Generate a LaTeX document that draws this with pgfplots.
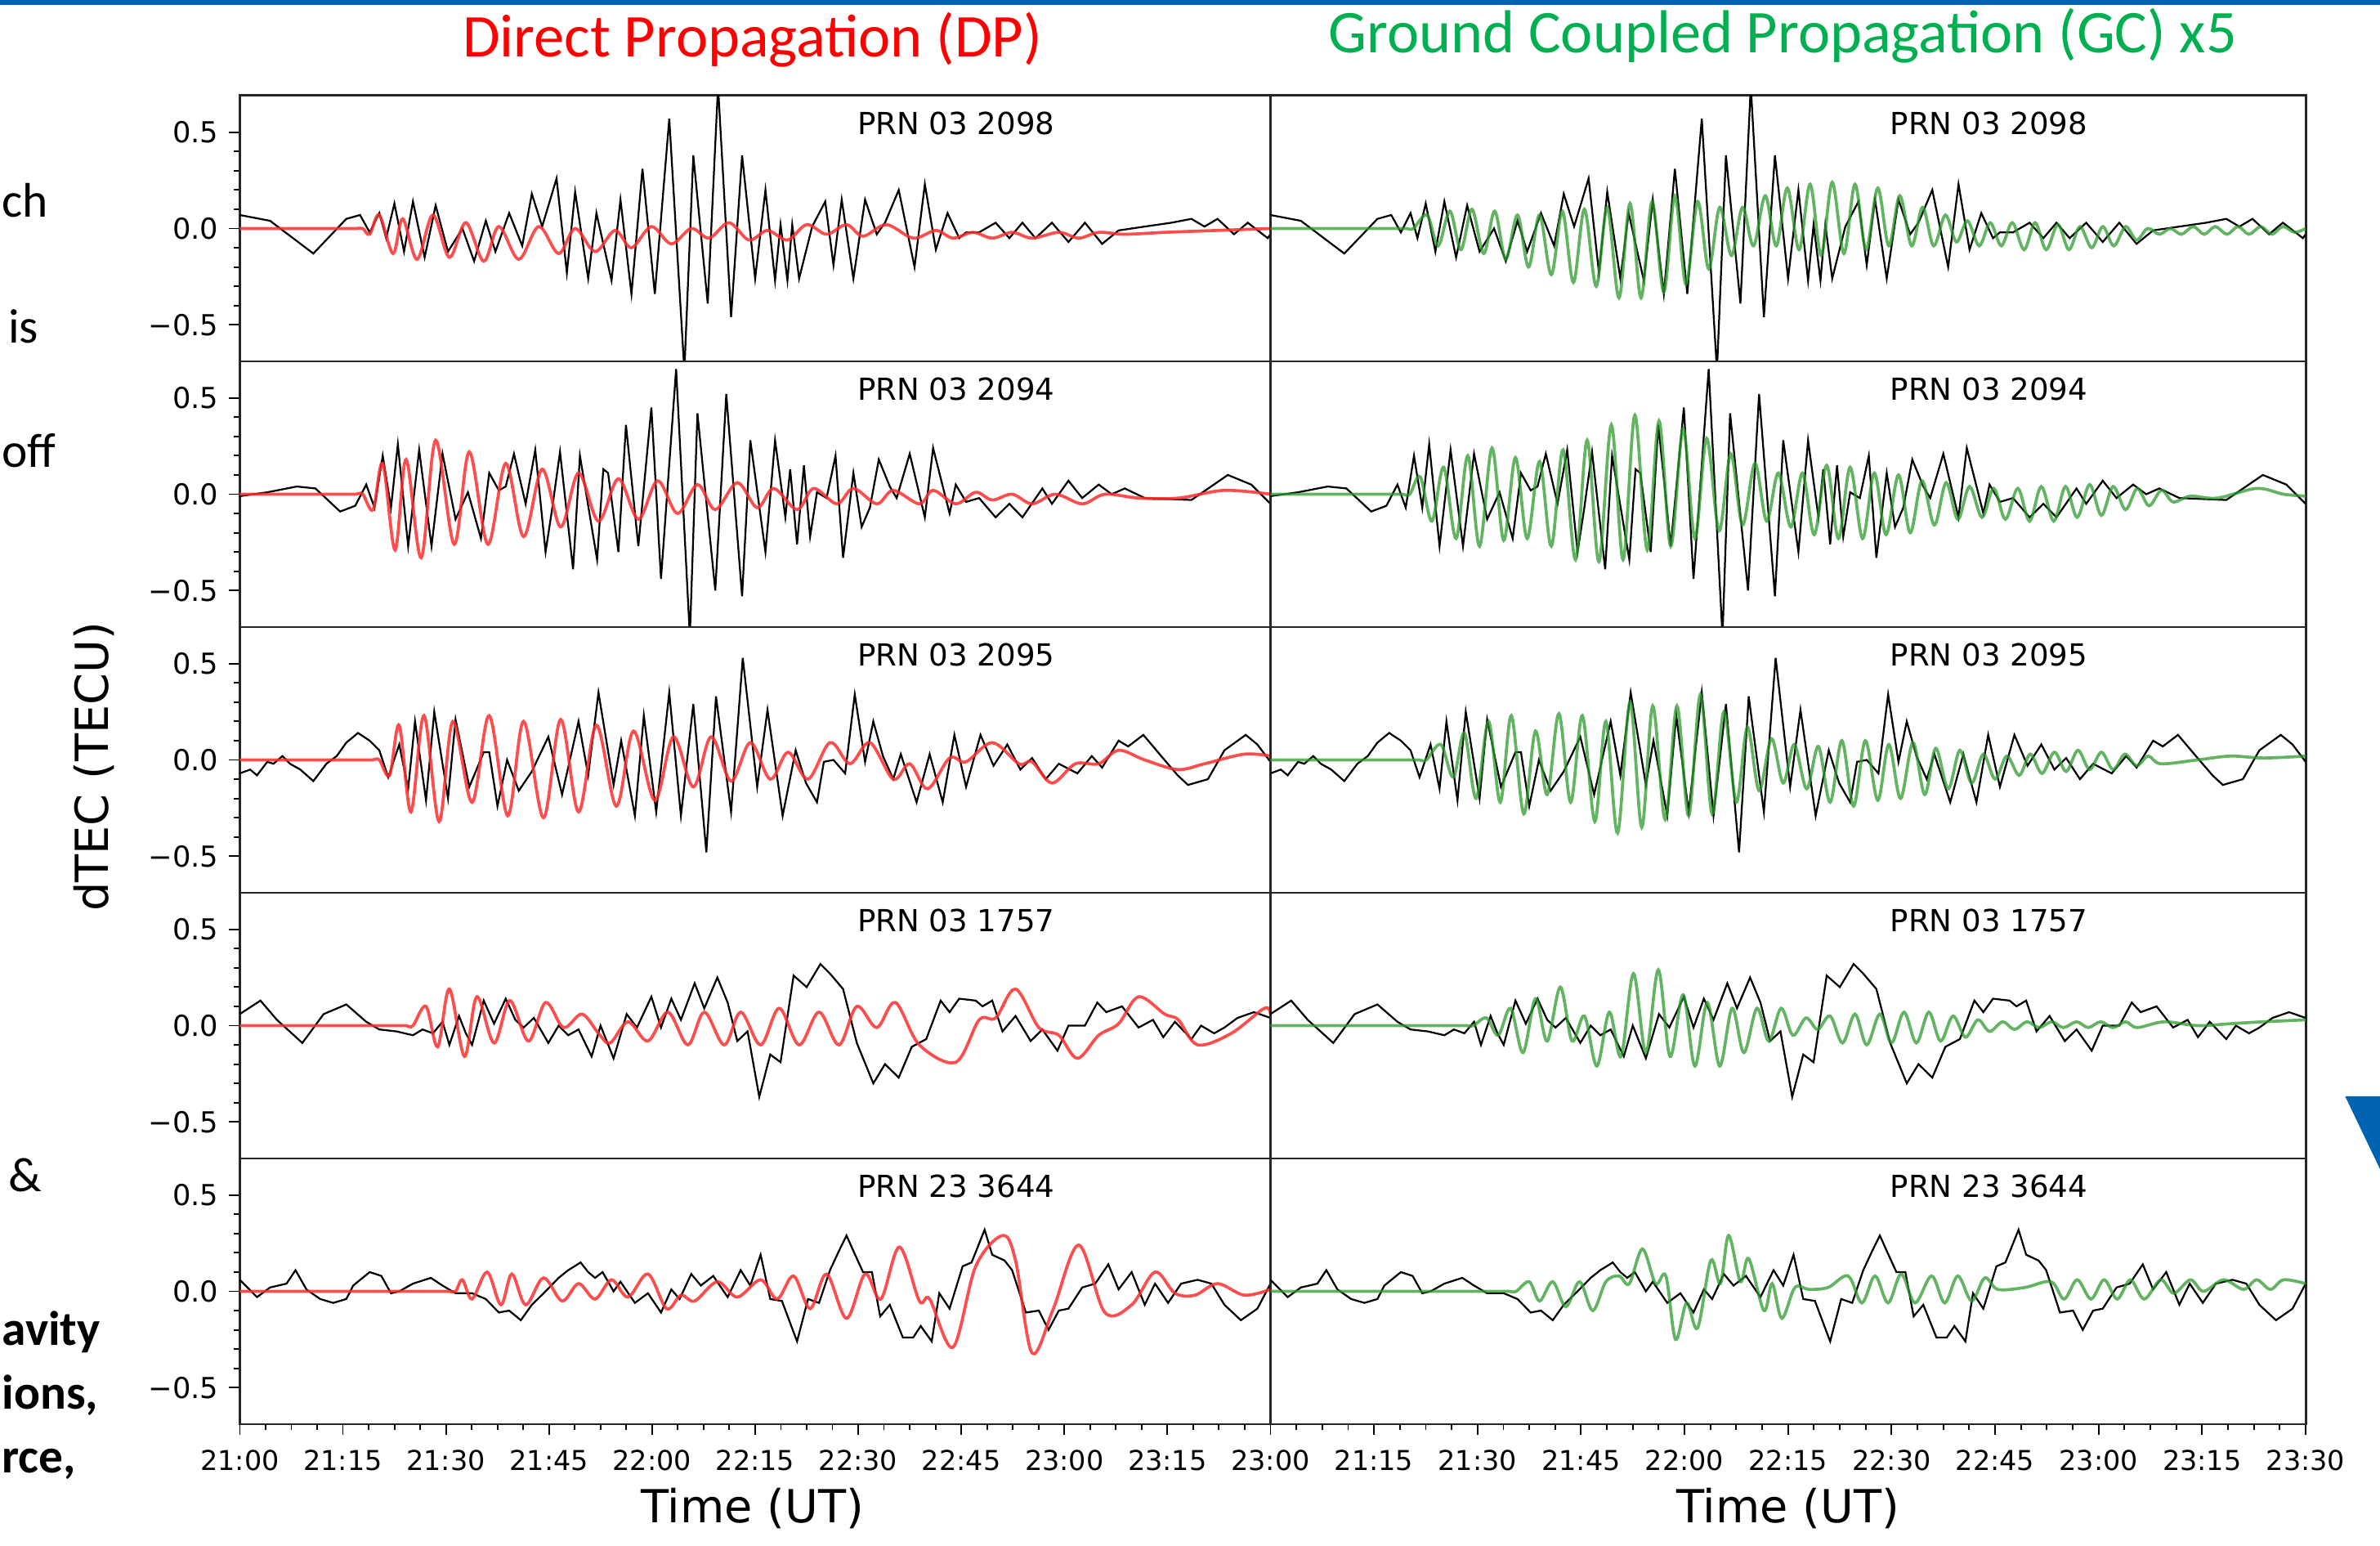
\documentclass[border=0pt]{standalone}
\usepackage{fontspec}
\setmainfont{DejaVu Sans}
\newfontfamily\calibri{Carlito}
\usepackage{pgfplots}
\usepackage{pgfplotstable}
\pgfplotsset{compat=1.18}

\definecolor{dpred}{RGB}{255,45,45}
\definecolor{gcgreen}{RGB}{45,155,45}
\definecolor{slideblue}{RGB}{0,99,177}
\definecolor{titlegreen}{RGB}{0,176,80}

% ---- black: observed dTEC, t in minutes after 21:00 ----
\pgfplotstableread{
t v
0 0.07
4.4 0.04
10.7 -0.13
15.5 0.05
17.5 0.07
18.9 -0.02
20.3 0.08
21.3 -0.05
22.5 0.13
23.9 -0.12
25.2 0.14
26.9 -0.15
28.5 0.12
30.3 -0.12
32.4 0.00
34.1 -0.17
35.8 0.04
37.2 -0.12
39.2 0.08
41.1 -0.09
42.5 0.18
44.0 0.01
46.1 0.26
47.6 -0.23
48.8 0.19
50.7 -0.26
51.9 0.08
54.1 -0.27
55.4 0.15
57.0 -0.34
58.6 0.31
60.4 -0.34
62.5 0.57
64.7 -0.74
66.0 0.38
68.1 -0.39
69.6 0.74
71.5 -0.46
73.1 0.38
75.0 -0.26
76.5 0.20
77.9 -0.27
78.7 0.02
79.7 -0.27
80.4 0.02
81.4 -0.26
83.3 0.01
85.2 0.14
86.4 -0.19
87.6 0.15
89.3 -0.26
91.0 0.15
92.7 -0.03
93.9 0.03
95.9 0.20
98.2 -0.20
99.7 0.23
101.3 -0.11
103.0 0.08
104.7 -0.05
105.7 -0.02
107.6 -0.02
110.0 0.03
112.0 -0.05
113.9 0.03
115.8 -0.05
118.2 0.03
120.6 -0.07
123.0 0.03
125.5 -0.08
127.9 -0.01
131.7 0.01
135.6 0.03
138.5 0.05
140.4 0.01
142.3 0.05
144.7 -0.03
146.7 0.03
149.6 -0.05
150 -0.03
}\blkA

\pgfplotstableread{
t v
0 -0.01
4.0 0.01
8.3 0.04
11.0 0.03
14.6 -0.09
16.8 -0.06
18.4 0.05
19.6 -0.07
20.8 0.20
22.0 -0.07
23.0 0.26
24.5 -0.27
26.1 0.23
27.9 -0.27
29.5 0.21
31.4 -0.13
33.2 0.01
35.1 -0.23
36.3 0.11
37.7 0.02
38.7 0.04
39.9 0.21
41.6 -0.05
43.0 0.23
44.5 -0.30
45.4 -0.09
46.6 0.22
48.5 -0.39
49.5 0.20
52.0 -0.34
52.9 0.13
53.6 0.11
55.1 -0.30
56.2 0.36
58.0 -0.27
59.9 0.45
61.3 -0.44
63.5 0.65
65.5 -0.74
66.6 0.42
69.2 -0.50
70.8 0.52
73.1 -0.53
74.3 0.28
76.5 -0.30
77.9 0.28
79.4 -0.12
80.1 0.13
81.1 -0.26
82.1 0.15
83.0 -0.22
84.0 0.01
85.4 -0.02
86.7 0.20
87.8 -0.33
89.3 0.11
90.5 -0.17
91.7 -0.07
93.0 0.18
94.6 0.04
95.6 -0.02
97.5 0.21
99.7 -0.12
100.9 0.24
103.3 -0.10
104.2 0.05
105.7 -0.04
107.6 -0.02
110.0 -0.12
112.0 -0.05
113.9 -0.12
116.8 0.03
118.2 -0.05
120.6 0.07
122.6 -0.02
125.0 0.05
126.9 0.00
128.8 0.03
131.7 -0.02
138.5 -0.03
143.8 0.10
147.2 0.05
150 -0.05
}\blkB

\pgfplotstableread{
t v
0 -0.07
1.5 -0.05
2.5 -0.08
4.0 -0.01
4.9 -0.02
6.2 0.02
7.3 -0.02
8.8 -0.05
10.7 -0.11
12.6 -0.02
14.1 0.02
15.5 0.09
17.2 0.14
18.9 0.10
20.3 0.05
21.6 -0.09
23.2 0.08
24.5 -0.15
25.5 0.20
27.1 -0.21
28.3 0.25
30.3 -0.20
31.4 0.21
33.4 -0.14
35.5 0.04
36.3 0.04
37.5 -0.24
38.9 0.00
40.6 -0.16
42.5 -0.06
44.9 0.12
46.9 -0.18
49.3 0.20
50.7 -0.08
52.2 0.35
54.4 -0.13
55.5 0.10
57.5 -0.29
58.8 0.23
60.6 -0.27
62.5 0.35
64.2 -0.29
66.0 0.29
67.9 -0.48
69.3 0.33
71.5 -0.27
73.2 0.53
75.3 -0.14
76.8 0.26
79.0 -0.29
80.9 0.05
82.4 -0.12
84.0 -0.22
85.0 -0.01
86.4 0.00
88.1 -0.07
89.5 0.34
91.0 -0.01
92.2 0.20
93.6 0.02
95.1 -0.10
96.2 0.03
98.5 -0.22
100.4 0.03
102.3 -0.22
104.0 0.13
105.7 -0.14
107.8 0.13
109.7 -0.03
111.7 0.08
113.6 -0.05
115.3 0.01
117.3 -0.10
119.2 -0.02
121.9 -0.07
124.0 0.02
125.5 -0.04
127.9 0.10
129.3 0.07
131.5 0.13
134.1 0.02
136.5 -0.08
138.0 -0.13
140.9 -0.10
143.3 0.05
146.4 0.13
148.1 0.08
150 -0.01
}\blkC

\pgfplotstableread{
t v
0 0.06
3.0 0.13
5.4 0.03
9.1 -0.09
12.2 0.06
15.5 0.11
18.4 0.02
20.3 -0.02
22.8 -0.03
25.2 -0.05
26.6 -0.02
28.1 -0.04
29.5 0.02
30.5 -0.10
31.9 0.05
32.9 -0.04
33.8 -0.10
35.5 0.13
37.0 0.01
38.7 0.14
40.1 0.03
41.3 -0.01
42.8 0.04
44.9 -0.09
46.4 0.00
47.8 -0.05
49.3 -0.02
51.2 -0.16
52.5 0.00
54.4 -0.17
56.3 0.06
57.8 -0.01
59.9 0.15
61.3 -0.01
62.8 0.14
64.2 0.03
66.2 0.22
67.6 0.09
69.5 0.25
71.0 0.12
72.4 -0.08
73.9 -0.03
75.6 -0.37
77.2 -0.15
78.7 -0.19
80.6 0.26
82.5 0.20
84.5 0.32
85.9 0.27
87.8 0.19
89.8 -0.09
92.2 -0.30
93.9 -0.20
95.9 -0.27
97.8 -0.11
99.9 -0.07
102.0 0.13
103.3 0.07
104.7 0.14
107.1 0.13
108.1 0.10
109.5 0.13
111.0 -0.03
112.9 0.05
115.1 -0.08
116.8 -0.02
119.0 -0.13
120.6 0.00
123.0 0.00
124.8 0.12
126.1 0.07
128.4 0.10
130.8 -0.01
132.9 0.03
134.4 -0.06
136.1 0.02
138.5 -0.07
139.9 0.00
141.8 -0.04
143.3 -0.01
145.2 0.04
147.6 0.07
150 0.04
}\blkD

\pgfplotstableread{
t v
0 0.06
2.5 -0.03
4.4 0.02
6.8 0.04
8.1 0.11
9.7 0.01
11.7 -0.04
13.6 -0.06
15.5 -0.04
16.5 0.03
18.9 0.10
20.6 0.08
22.0 -0.01
23.2 0.00
25.2 0.04
27.8 0.07
29.5 0.03
31.4 -0.01
33.8 -0.01
35.8 -0.04
37.7 -0.11
39.2 -0.10
40.9 -0.15
42.5 -0.07
44.5 0.00
46.4 0.07
47.8 0.11
49.6 0.15
50.7 0.10
51.7 0.07
52.8 0.10
54.4 0.00
55.4 0.05
57.5 -0.06
59.4 -0.01
61.3 -0.11
62.8 0.01
64.0 -0.04
65.7 0.09
67.1 0.03
68.9 0.08
71.0 -0.03
72.9 0.11
74.3 0.03
75.8 0.19
77.2 -0.04
78.9 -0.05
81.1 -0.26
82.7 -0.04
84.3 -0.06
85.9 0.11
87.2 0.21
88.3 0.29
89.3 0.21
90.7 0.10
92.0 0.10
93.2 -0.13
94.6 -0.07
96.5 -0.24
98.0 -0.24
99.1 -0.18
100.7 -0.26
101.8 -0.01
103.3 -0.09
105.2 0.13
106.5 0.15
108.4 0.32
109.5 0.19
111.3 0.16
112.4 0.11
114.4 -0.11
116.3 -0.10
117.7 -0.20
119.2 -0.10
120.6 -0.09
122.6 0.02
124.5 0.04
126.4 0.14
127.9 0.01
129.8 0.10
131.7 -0.07
133.2 0.04
135.1 -0.06
137.0 0.04
139.4 0.06
141.4 0.04
143.3 -0.07
145.7 -0.15
148.1 -0.09
150 0.04
}\blkE

% ---- red: direct propagation model ----
\pgfplotstableread{
t v
0 0
12 0
15.5 0
16.9 0
17.9 0
18.9 -0.03
20.3 0.07
22.3 -0.13
23.7 0.05
25.8 -0.16
28.1 0.07
30.5 -0.15
32.9 0.03
35.5 -0.17
37.7 0.01
40.6 -0.16
43.5 0.01
46.4 -0.13
48.8 0.00
51.7 -0.12
54.6 -0.01
57.0 -0.10
59.9 0.01
62.8 -0.08
65.7 0.00
68.3 -0.05
71.2 0.03
74.1 -0.06
76.8 -0.01
79.7 -0.06
82.5 0.02
85.4 -0.03
88.3 0.02
90.7 -0.04
94.1 0.02
98.0 -0.05
101.3 -0.01
103.8 -0.05
106.7 -0.02
109.5 -0.05
112.4 -0.02
115.3 -0.05
119.2 -0.02
122.1 -0.05
125.0 -0.02
128.8 -0.03
134.6 -0.02
142.3 -0.01
150 0.00
}\redA

\pgfplotstableread{
t v
0 0
12 0
15.5 0
16.9 0
17.9 0
19.4 -0.08
20.8 0.16
22.6 -0.29
24.2 0.18
26.4 -0.33
28.5 0.28
31.2 -0.26
33.4 0.22
36.1 -0.26
38.7 0.16
41.3 -0.22
44.0 0.13
46.7 -0.17
49.3 0.11
52.2 -0.14
55.1 0.08
58.0 -0.13
60.8 0.07
63.7 -0.10
66.6 0.05
69.2 -0.08
72.4 0.06
75.3 -0.07
77.7 0.03
81.1 -0.08
83.5 0.03
86.9 -0.05
89.3 0.03
92.7 -0.05
95.1 0.02
98.9 -0.05
100.9 0.02
104.2 -0.05
107.1 0.01
109.5 -0.03
112.4 0.00
115.3 -0.05
118.7 0.00
122.6 -0.05
125.9 0.00
130.8 -0.02
136.6 -0.02
143.3 0.02
150 0.00
}\redB

\pgfplotstableread{
t v
0 0
14.3 0
17.8 0
19.3 0
20.3 0
21.8 -0.08
23.2 0.18
24.9 -0.27
26.8 0.23
29.0 -0.32
31.0 0.20
33.8 -0.22
36.3 0.23
39.0 -0.29
41.3 0.20
44.2 -0.30
46.7 0.21
49.3 -0.27
51.9 0.18
54.8 -0.24
57.3 0.15
60.4 -0.21
63.1 0.12
66.0 -0.14
68.6 0.12
71.5 -0.11
74.3 0.09
77.2 -0.10
79.8 0.04
82.7 -0.10
85.9 0.09
88.8 -0.02
91.7 0.09
95.1 -0.10
97.5 -0.02
100.1 -0.15
103.3 0.01
105.7 -0.01
109.5 0.09
113.4 -0.02
115.3 -0.01
118.2 -0.12
121.6 -0.02
125.0 -0.02
127.9 0.05
131.7 0.00
136.5 -0.05
140.4 -0.02
146.2 0.03
150 0.02
}\redC

\pgfplotstableread{
t v
0 0
19.2 0
22.7 0
24.2 0
25.2 0
27.1 0.10
28.8 -0.11
30.5 0.19
32.7 -0.16
34.5 0.15
37.0 -0.09
39.3 0.13
42.0 -0.08
44.5 0.12
47.1 -0.01
49.8 0.06
52.2 -0.04
53.9 -0.09
56.5 0.02
59.4 -0.08
62.3 0.07
65.2 -0.10
67.6 0.07
70.5 -0.10
72.9 0.07
75.8 -0.10
78.5 0.09
81.4 -0.10
84.3 0.07
87.2 -0.10
89.8 0.10
92.7 -0.01
95.4 0.12
98.9 -0.10
104.2 -0.19
107.6 0.03
110.0 0.04
112.9 0.19
116.3 -0.01
119.2 -0.05
121.9 -0.17
125.0 -0.05
127.9 0.01
130.8 0.15
134.6 0.06
136.6 0.03
139.4 -0.10
144.3 -0.04
149.1 0.09
150 0.06
}\redD

\pgfplotstableread{
t v
0 0
25.4 0
28.9 0
30.4 0
31.4 0
32.4 0.06
33.8 -0.04
36.0 0.10
38.0 -0.07
39.6 0.09
41.6 -0.07
44.2 0.07
46.9 -0.05
49.3 0.04
51.7 -0.04
54.1 0.06
56.5 -0.03
59.4 0.09
62.1 -0.09
64.2 -0.02
66.2 -0.05
69.5 0.05
72.4 -0.03
75.8 0.06
78.2 -0.04
80.6 0.08
83.0 -0.09
85.4 0.09
88.3 -0.14
91.0 0.09
93.3 -0.04
96.0 0.23
98.9 -0.05
100.4 -0.04
103.8 -0.29
107.1 0.13
111.0 0.29
112.9 0.16
115.3 -0.32
118.4 -0.09
122.1 0.24
125.9 -0.11
129.8 -0.07
133.2 0.10
136.1 -0.01
139.0 -0.02
142.3 0.04
146.2 -0.02
150 0.01
}\redE

% ---- green: ground coupled model (x5) ----
\pgfplotstableread{
t v
0 0
14.7 0
18.2 0
19.7 0
20.7 0
22.7 0.07
24.3 -0.09
26.0 0.09
27.6 -0.11
29.2 0.10
30.9 -0.13
32.5 0.09
34.1 -0.16
35.8 0.07
37.4 -0.20
39.0 0.07
40.7 -0.24
42.3 0.09
43.9 -0.28
45.5 0.10
47.2 -0.30
48.8 0.11
50.5 -0.36
52.1 0.13
53.7 -0.36
55.3 0.14
57.0 -0.33
58.6 0.17
60.2 -0.29
61.9 0.14
63.5 -0.21
65.1 0.11
66.8 -0.14
68.4 0.11
70.0 -0.09
71.7 0.17
73.3 -0.09
74.9 0.21
76.6 -0.11
78.2 0.23
79.8 -0.14
81.4 0.24
83.1 -0.13
84.7 0.23
86.3 -0.11
88.0 0.21
89.6 -0.09
91.2 0.17
92.9 -0.09
94.5 0.11
96.1 -0.09
97.8 0.07
99.4 -0.07
101.0 0.04
102.7 -0.09
104.3 0.03
105.9 -0.09
107.5 0.03
109.2 -0.11
110.8 0.03
112.4 -0.11
114.1 0.02
115.7 -0.11
117.3 0.01
119.0 -0.10
120.6 0.01
122.2 -0.09
123.9 0.01
125.5 -0.06
127.1 0.00
128.8 -0.03
130.4 0.00
132.0 -0.03
133.7 0.01
135.3 -0.03
136.9 0.01
138.6 -0.03
140.2 0.01
141.8 -0.03
143.5 0.01
145.1 -0.03
146.7 0.01
148.4 -0.02
150 0.00
}\grnA

\pgfplotstableread{
t v
0 0
14.2 0
17.7 0
19.2 0
20.2 0
21.7 0.09
23.4 -0.14
25.1 0.14
26.9 -0.23
28.6 0.20
30.3 -0.27
32.1 0.24
33.8 -0.24
35.5 0.19
37.2 -0.23
39.0 0.17
40.7 -0.27
42.4 0.23
44.2 -0.34
45.9 0.28
47.6 -0.35
49.4 0.36
51.1 -0.34
52.8 0.41
54.6 -0.29
56.3 0.38
58.0 -0.27
59.8 0.34
61.5 -0.23
63.2 0.29
65.0 -0.19
66.7 0.21
68.4 -0.16
70.2 0.16
71.9 -0.14
73.6 0.11
75.4 -0.17
77.1 0.11
78.8 -0.21
80.6 0.15
82.3 -0.23
84.0 0.14
85.8 -0.23
87.5 0.11
89.2 -0.21
91.0 0.10
92.7 -0.20
94.4 0.07
96.2 -0.16
97.9 0.06
99.6 -0.13
101.3 0.04
103.1 -0.12
104.8 0.03
106.5 -0.13
108.3 0.03
110.0 -0.14
111.7 0.04
113.5 -0.14
115.2 0.04
116.9 -0.12
118.7 0.05
120.4 -0.11
122.1 0.04
123.9 -0.08
125.6 0.03
127.3 -0.06
129.1 0.02
130.8 -0.04
133.3 -0.01
137.2 -0.02
142.9 0.03
146.8 0.00
150 -0.01
}\grnB

\pgfplotstableread{
t v
0 0
16.6 0
20.1 0
21.6 0
22.6 0
24.7 0.08
26.5 -0.09
28.1 0.14
29.8 -0.20
31.6 0.20
33.3 -0.22
34.9 0.23
36.7 -0.28
38.4 0.15
40.1 -0.18
41.8 0.24
43.5 -0.22
45.2 0.23
47.0 -0.32
48.6 0.20
50.3 -0.38
52.1 0.30
53.8 -0.35
55.4 0.28
57.2 -0.31
58.9 0.28
60.6 -0.29
62.3 0.34
64.0 -0.28
65.7 0.25
67.5 -0.22
69.1 0.17
70.8 -0.16
72.6 0.11
74.3 -0.12
75.9 0.08
77.7 -0.15
79.4 0.07
81.1 -0.22
82.8 0.10
84.5 -0.24
86.2 0.10
88.0 -0.21
89.6 0.08
91.3 -0.20
93.1 0.09
94.8 -0.18
96.4 0.06
98.2 -0.15
99.9 0.05
101.6 -0.12
103.3 0.03
105.0 -0.10
106.7 0.02
108.5 -0.08
110.1 0.03
111.8 -0.07
113.6 0.04
115.3 -0.06
117.0 0.05
118.7 -0.05
120.4 0.04
122.1 -0.05
123.8 0.03
125.5 -0.03
127.2 0.02
129.0 -0.02
134.3 0.00
139.1 0.02
143.9 0.01
150 0.02
}\grnC

\pgfplotstableread{
t v
0 0
23.4 0
26.9 0
28.4 0
29.4 0
31.3 0.04
33.0 -0.05
34.8 0.09
36.6 -0.14
38.4 0.14
40.1 -0.08
42.0 0.20
43.7 -0.08
45.5 0.05
47.3 -0.21
49.1 0.07
50.8 -0.16
52.6 0.27
54.4 -0.14
56.2 0.29
57.9 -0.16
59.8 0.16
61.5 -0.21
63.3 0.12
65.1 -0.21
66.9 0.09
68.6 -0.14
70.5 0.09
72.2 -0.08
74.0 0.09
75.7 -0.05
77.6 0.04
79.3 -0.02
81.1 0.05
82.9 -0.09
84.7 0.06
86.4 -0.10
88.3 0.06
90.0 -0.09
91.8 0.07
93.6 -0.09
95.4 0.07
97.1 -0.08
98.9 0.05
100.7 -0.06
102.5 0.03
104.2 -0.03
106.1 0.02
107.8 -0.02
109.6 0.02
111.4 -0.01
113.2 0.02
114.9 -0.01
116.8 0.02
118.5 -0.01
120.3 0.02
122.1 -0.01
123.9 0.02
125.6 -0.01
129.5 0.02
134.3 0.00
139.1 0.01
143.9 0.02
150 0.03
}\grnD

\pgfplotstableread{
t v
0 0
29.6 0
33.1 0
34.6 0
35.6 0
37.5 0.05
39.0 -0.05
40.9 0.05
42.8 -0.08
44.8 0.05
46.7 -0.10
48.6 0.05
50.5 0.08
52.0 0.04
53.9 0.22
55.8 0.04
57.3 0.08
58.7 -0.25
60.3 -0.06
61.9 -0.19
63.8 0.16
65.2 0.04
66.4 0.29
68.1 0.05
69.3 0.17
71.5 -0.10
72.7 0.04
74.1 -0.14
76.0 0.02
78.0 0.01
80.8 0.02
83.7 0.08
85.7 -0.06
87.6 0.08
89.5 -0.06
91.4 0.09
93.4 -0.06
95.8 0.08
97.7 -0.06
99.6 0.08
101.6 -0.05
103.5 0.07
105.4 0.01
109.3 0.02
113.1 0.05
115.0 -0.04
116.9 0.06
118.9 -0.04
120.8 0.06
122.7 -0.04
124.6 0.06
126.6 -0.04
129.0 0.06
130.9 -0.01
133.3 0.06
135.2 0.00
138.1 0.06
141.0 0.01
142.9 0.06
144.9 0.01
146.8 0.06
150 0.04
}\grnE

\pgfplotsset{
  panel/.style={
    scale only axis, width=339.5pt, height=87.5pt,
    xmin=0, xmax=150, ymin=-0.69, ymax=0.69,
    axis line style={line width=0.8pt, black!85},
    tick align=outside, tick pos=left,
    tick style={black, line width=0.5pt},
    major tick length=3.5pt, minor tick length=2pt,
    xtick=\empty,
    ytick={-0.5,0,0.5}, yticklabels={−0.5,0.0,0.5},
    minor y tick num=4,
    tick label style={font=\fontsize{9.5}{11}\selectfont},
  },
  rightpanel/.style={panel, width=341pt, ytick=\empty},
  bottomrow/.style={xtick={0,15,...,150}, minor x tick num=3,
    xticklabel style={font=\fontsize{9}{10}\selectfont, yshift=-1.5pt}},
  blk/.style={black, line width=0.6pt},
  dp/.style={dpred, opacity=0.85, line width=1pt, smooth, tension=0.55},
  gc/.style={gcgreen, opacity=0.75, line width=1pt, smooth, tension=0.55},
}
\tikzset{prn/.style={anchor=base, font=\fontsize{10}{12}\selectfont}}

\begin{document}
\begin{tikzpicture}
\useasboundingbox (0,0) rectangle (784pt,509pt);

% slide remnants
\fill[slideblue] (0,507.4pt) rectangle (784pt,509pt);
\fill[slideblue] (772.5pt,148pt) -- (784pt,148pt) -- (784pt,124pt) -- cycle;
\begin{scope}[every node/.style={anchor=base west, inner sep=0pt, font=\calibri\fontsize{16}{19}\selectfont}]
\node at (0.5pt,437.5pt) {ch};
\node at (2.5pt,396pt) {is};
\node at (0.5pt,355pt) {off};
\node at (2.5pt,116.5pt) {\&};
\node[font=\calibri\bfseries\fontsize{16}{19}\selectfont] at (0.5pt,66pt) {avity};
\node[font=\calibri\bfseries\fontsize{16}{19}\selectfont] at (0.5pt,45pt) {ions,};
\node[font=\calibri\bfseries\fontsize{16}{19}\selectfont] at (0.5pt,24pt) {rce,};
\end{scope}

% column titles
\node[anchor=base, text=red, font=\calibri\fontsize{20}{24}\selectfont] at (247.8pt,490.2pt) {Direct Propagation (DP)};
\node[anchor=base, text=titlegreen, font=\calibri\fontsize{20}{24}\selectfont] at (587.3pt,491.5pt) {Ground Coupled Propagation (GC) x5};

% ---- left column: DP ----
\begin{axis}[panel, at={(79pt,477.5pt)}, anchor=north west]
\addplot[blk] table[x=t,y=v] {\blkA};
\addplot[dp] table[x=t,y=v] {\redA};
\node[prn] at (axis description cs:0.695,0.854) {PRN 03 2098};
\end{axis}
\begin{axis}[panel, at={(79pt,390pt)}, anchor=north west]
\addplot[blk] table[x=t,y=v] {\blkB};
\addplot[dp] table[x=t,y=v] {\redB};
\node[prn] at (axis description cs:0.695,0.854) {PRN 03 2094};
\end{axis}
\begin{axis}[panel, at={(79pt,302.5pt)}, anchor=north west]
\addplot[blk] table[x=t,y=v] {\blkC};
\addplot[dp] table[x=t,y=v] {\redC};
\node[prn] at (axis description cs:0.695,0.854) {PRN 03 2095};
\end{axis}
\begin{axis}[panel, at={(79pt,215pt)}, anchor=north west]
\addplot[blk] table[x=t,y=v] {\blkD};
\addplot[dp] table[x=t,y=v] {\redD};
\node[prn] at (axis description cs:0.695,0.854) {PRN 03 1757};
\end{axis}
\begin{axis}[panel, bottomrow, at={(79pt,127.5pt)}, anchor=north west,
  xticklabels={21:00,21:15,21:30,21:45,22:00,22:15,22:30,22:45,23:00,23:15,{}}]
\addplot[blk] table[x=t,y=v] {\blkE};
\addplot[dp] table[x=t,y=v] {\redE};
\node[prn] at (axis description cs:0.695,0.854) {PRN 23 3644};
\end{axis}

% ---- right column: GC x5 ----
\begin{axis}[rightpanel, at={(418.5pt,477.5pt)}, anchor=north west]
\addplot[blk] table[x=t,y=v] {\blkA};
\addplot[gc] table[x=t,y=v] {\grnA};
\node[prn] at (axis description cs:0.694,0.854) {PRN 03 2098};
\end{axis}
\begin{axis}[rightpanel, at={(418.5pt,390pt)}, anchor=north west]
\addplot[blk] table[x=t,y=v] {\blkB};
\addplot[gc] table[x=t,y=v] {\grnB};
\node[prn] at (axis description cs:0.694,0.854) {PRN 03 2094};
\end{axis}
\begin{axis}[rightpanel, at={(418.5pt,302.5pt)}, anchor=north west]
\addplot[blk] table[x=t,y=v] {\blkC};
\addplot[gc] table[x=t,y=v] {\grnC};
\node[prn] at (axis description cs:0.694,0.854) {PRN 03 2095};
\end{axis}
\begin{axis}[rightpanel, at={(418.5pt,215pt)}, anchor=north west]
\addplot[blk] table[x=t,y=v] {\blkD};
\addplot[gc] table[x=t,y=v] {\grnD};
\node[prn] at (axis description cs:0.694,0.854) {PRN 03 1757};
\end{axis}
\begin{axis}[rightpanel, bottomrow, at={(418.5pt,127.5pt)}, anchor=north west,
  xticklabels={23:00,21:15,21:30,21:45,22:00,22:15,22:30,22:45,23:00,23:15,23:30}]
\addplot[blk] table[x=t,y=v] {\blkE};
\addplot[gc] table[x=t,y=v] {\grnE};
\node[prn] at (axis description cs:0.694,0.854) {PRN 23 3644};
\end{axis}

% shared axis labels
\node[rotate=90, font=\fontsize{15}{18}\selectfont] at (31pt,256.5pt) {dTEC (TECU)};
\node[anchor=base, font=\fontsize{15}{18}\selectfont] at (247.9pt,7.5pt) {Time (UT)};
\node[anchor=base, font=\fontsize{15}{18}\selectfont] at (589pt,7.5pt) {Time (UT)};
\end{tikzpicture}
\end{document}
